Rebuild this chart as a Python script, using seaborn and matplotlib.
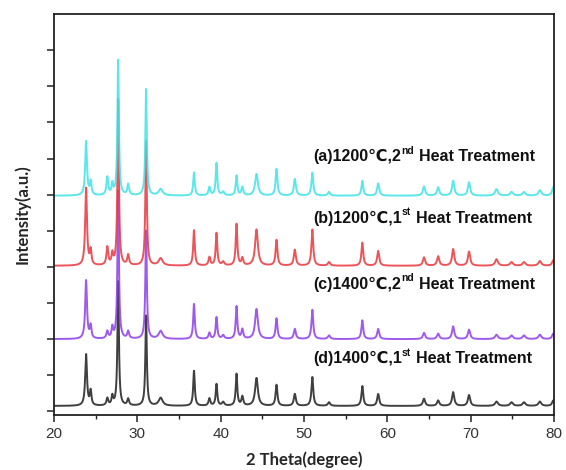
import numpy as np
import pandas as pd
import matplotlib
matplotlib.use("Agg")
import matplotlib.pyplot as plt
import seaborn as sns
from matplotlib.ticker import MultipleLocator

# ---- data ----
peak_2theta = [23.85, 24.4, 26.4, 27.0, 27.7, 28.9, 31.05, 32.8, 36.8, 38.65,
               39.5, 40.3, 41.9, 42.6, 44.3, 46.7, 48.9, 51.0, 53.0, 57.0,
               58.9, 64.4, 66.1, 67.9, 69.8, 73.1, 74.9, 76.4, 78.3, 79.9]
peak_width = [0.16, 0.14, 0.16, 0.14, 0.13, 0.16, 0.13, 0.35, 0.14, 0.16,
              0.14, 0.2, 0.14, 0.16, 0.25, 0.16, 0.18, 0.16, 0.2, 0.16,
              0.18, 0.2, 0.2, 0.2, 0.2, 0.25, 0.25, 0.25, 0.25, 0.2]
heights_a = [1.5, 0.37, 0.5, 0.3, 3.75, 0.3, 2.95, 0.18, 0.64, 0.23,
             0.9, 0.1, 0.55, 0.23, 0.6, 0.74, 0.46, 0.64, 0.1, 0.41,
             0.34, 0.25, 0.23, 0.41, 0.37, 0.18, 0.1, 0.1, 0.15, 0.23]
heights_b = [2.15, 0.4, 0.5, 0.3, 4.6, 0.28, 3.45, 0.2, 0.98, 0.23,
             0.9, 0.1, 1.15, 0.2, 1.0, 0.71, 0.44, 1.0, 0.1, 0.64,
             0.41, 0.23, 0.26, 0.46, 0.39, 0.18, 0.1, 0.1, 0.13, 0.15]
heights_c = [1.62, 0.35, 0.2, 0.3, 4.1, 0.2, 3.0, 0.22, 0.97, 0.17,
             0.6, 0.1, 0.9, 0.26, 0.83, 0.57, 0.28, 0.81, 0.1, 0.52,
             0.28, 0.17, 0.15, 0.35, 0.26, 0.12, 0.1, 0.1, 0.12, 0.15]
heights_d = [1.42, 0.4, 0.2, 0.25, 3.45, 0.18, 2.5, 0.22, 0.97, 0.2,
             0.6, 0.1, 0.88, 0.25, 0.77, 0.58, 0.33, 0.8, 0.1, 0.55,
             0.33, 0.2, 0.15, 0.38, 0.3, 0.12, 0.1, 0.1, 0.12, 0.15]
baselines = [5.97, 4.03, 2.0, 0.15]
series_names = ["(a)", "(b)", "(c)", "(d)"]
label_main = ["(a)1200\u2103,2", "(b)1200\u2103,1", "(c)1400\u2103,2", "(d)1400\u2103,1"]
label_sup = ["nd", "st", "nd", "st"]
label_tail = "Heat Treatment"
label_y = [6.93, 5.22, 3.4, 1.33]
xticks = [20, 30, 40, 50, 60, 70, 80]

colors = ["#3EE3E6", "#E8373C", "#8E3DE8", "#1E1E1E"]

# ---- build profiles from the read peak table ----
x = np.linspace(20, 80, 4001)
frames = []
for name, base, hts in zip(series_names, baselines,
                           [heights_a, heights_b, heights_c, heights_d]):
    y = np.full_like(x, base)
    for p, w, h in zip(peak_2theta, peak_width, hts):
        y += h / (1.0 + ((x - p) / (w * 0.8)) ** 2)
    frames.append(pd.DataFrame({"two_theta": x, "intensity": y, "series": name}))
df = pd.concat(frames[::-1], ignore_index=True)

sns.set_theme(style="ticks")
plt.rcParams["font.family"] = ["Liberation Sans", "DejaVu Sans"]

fig = plt.figure(figsize=(5.66, 4.70), dpi=100)
ax = fig.add_axes([54 / 566, 1 - 415 / 470, 500 / 566, (415 - 14) / 470])

sns.lineplot(data=df, x="two_theta", y="intensity", hue="series",
             hue_order=series_names[::-1],
             palette=dict(zip(series_names, colors)),
             estimator=None, sort=False, linewidth=1.4, alpha=0.85,
             legend=False, ax=ax)

fam = ["Liberation Sans", "DejaVu Sans"]
for m, sup, ly in zip(label_main, label_sup, label_y):
    t1 = ax.text(51.1, ly, m, fontsize=11.5, fontweight="bold", color="#111111",
                 family=fam, va="baseline", ha="left")
    t2 = ax.annotate(sup, xy=(1.0, 0.55), xycoords=t1, fontsize=7.5,
                     fontweight="bold", color="#111111", family=fam,
                     va="bottom", ha="left")
    ax.annotate(label_tail, xy=(1.0, 0.0), xycoords=(t2, t1),
                xytext=(3.5, 0), textcoords="offset points", fontsize=11.5,
                fontweight="bold", color="#111111", family=fam,
                va="bottom", ha="left")

ax.set_xlim(20, 80)
ax.set_ylim(-0.1, 11.0)
ax.set_xticks(xticks)
ax.set_xticklabels([str(t) for t in xticks])
ax.xaxis.set_minor_locator(MultipleLocator(5))
ax.set_yticks(np.arange(0, 11, 1))
ax.set_yticklabels([])
ax.tick_params(axis="both", which="major", direction="out", length=5,
               width=1.1, color="#222222", labelsize=11, labelcolor="#333333")
ax.tick_params(axis="x", which="minor", direction="out", length=3, width=1.0,
               color="#222222")
for s in ax.spines.values():
    s.set_visible(True)
    s.set_linewidth(1.3)
    s.set_color("#222222")

ax.set_xlabel("2 Theta(degree)", fontsize=12, fontweight="bold",
              family=["Lato", "DejaVu Sans"], labelpad=8)
ax.set_ylabel("Intensity(a.u.)", fontsize=12, fontweight="bold",
              family=["Lato", "DejaVu Sans"], labelpad=8)

fig.savefig("out.png", dpi=100)
